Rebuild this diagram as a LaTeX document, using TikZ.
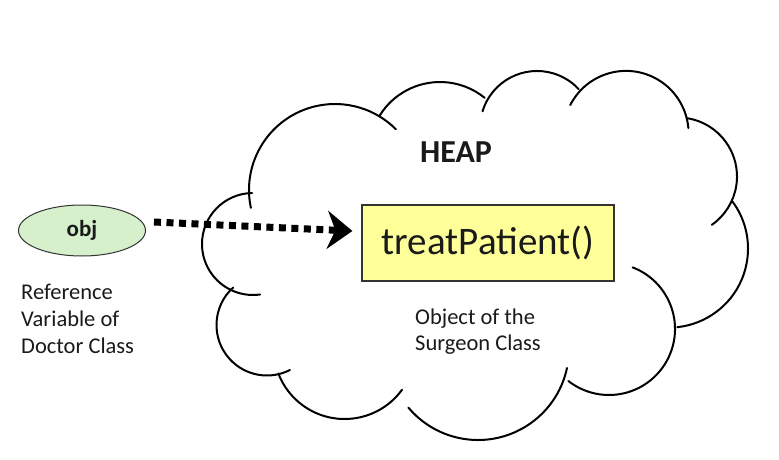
\documentclass[tikz,border=0pt]{standalone}
\usepackage{fontspec}
\setmainfont{Carlito}
\usetikzlibrary{shapes.geometric,arrows.meta}
\definecolor{objgreen}{HTML}{D6F0CC}
\definecolor{boxyellow}{HTML}{FFFF99}
\definecolor{ink}{HTML}{1A1A1A}
\begin{document}
\begin{tikzpicture}[x=1pt,y=-1pt,
  cloudline/.style={line width=2pt, line cap=round, draw=black},
  txt/.style={inner sep=0pt, text=ink, font=\fontsize{22.5}{27}\selectfont},
  objell/.style={ellipse, draw=black!80, line width=1pt, fill=objgreen,
    minimum width=127pt, minimum height=51pt, inner sep=0pt, text=ink,
    font=\bfseries\fontsize{23}{27}\selectfont},
  methodbox/.style={rectangle, draw=black!80, line width=1.2pt, fill=boxyellow,
    minimum width=252pt, minimum height=76pt, inner sep=0pt, text=ink,
    font=\fontsize{39}{44}\selectfont},
  dotarrow/.style={line width=7pt, dash pattern=on 7pt off 5.5pt, draw=black,
    -{Stealth[length=25pt,width=38pt,inset=8pt]}}
]
\useasboundingbox (0,0) rectangle (779,460);
% cloud outline (arcs)
\draw[cloudline] (335,190) ++(192:86pt) arc[start angle=192,end angle=45,radius=86pt];
\draw[cloudline] (440,153) ++(148:71pt) arc[start angle=148,end angle=51,radius=71pt];
\draw[cloudline] (537,128) ++(163:57pt) arc[start angle=163,end angle=43,radius=57pt];
\draw[cloudline] (626,133.5) ++(153:62.6pt) arc[start angle=153,end angle=5,radius=62.6pt];
\draw[cloudline] (678,176.5) ++(81:59pt) arc[start angle=81,end angle=-55,radius=59pt];
\draw[cloudline] (669,248.6) ++(37:79pt) arc[start angle=37,end angle=-84,radius=79pt];
\draw[cloudline] (609,329) ++(69:66pt) arc[start angle=69,end angle=-128,radius=66pt];
\draw[cloudline] (478,349) ++(-12:91pt) arc[start angle=-12,end angle=-140,radius=91pt];
\draw[cloudline] (344.6,348) ++(-36:71pt) arc[start angle=-36,end angle=-159,radius=71pt];
\draw[cloudline] (267,325) ++(132:50.5pt) arc[start angle=132,end angle=297,radius=50.5pt];
\draw[cloudline] (253,244) ++(91:51pt) arc[start angle=91,end angle=278,radius=51pt];
% nodes
\node[objell] (obj) at (82,230.5) {obj};
\node[methodbox] (box) at (488,243) {treatPatient()};
\node[txt, anchor=base, font=\bfseries\fontsize{32}{38}\selectfont] (heap) at (456,162) {HEAP};
\node[txt, anchor=base west] (ref1) at (21,299.5) {Reference};
\node[txt, anchor=base west] (ref2) at (21,326.5) {Variable of};
\node[txt, anchor=base west] (ref3) at (21,353.5) {Doctor Class};
\node[txt, anchor=base west] (obj1) at (415,324) {Object of the};
\node[txt, anchor=base west] (obj2) at (415,350) {Surgeon Class};
% reference arrow
\draw[dotarrow] ([xshift=8pt,yshift=8.5pt]obj.east) -- ([xshift=-9pt,yshift=12pt]box.west);
\end{tikzpicture}
\end{document}
